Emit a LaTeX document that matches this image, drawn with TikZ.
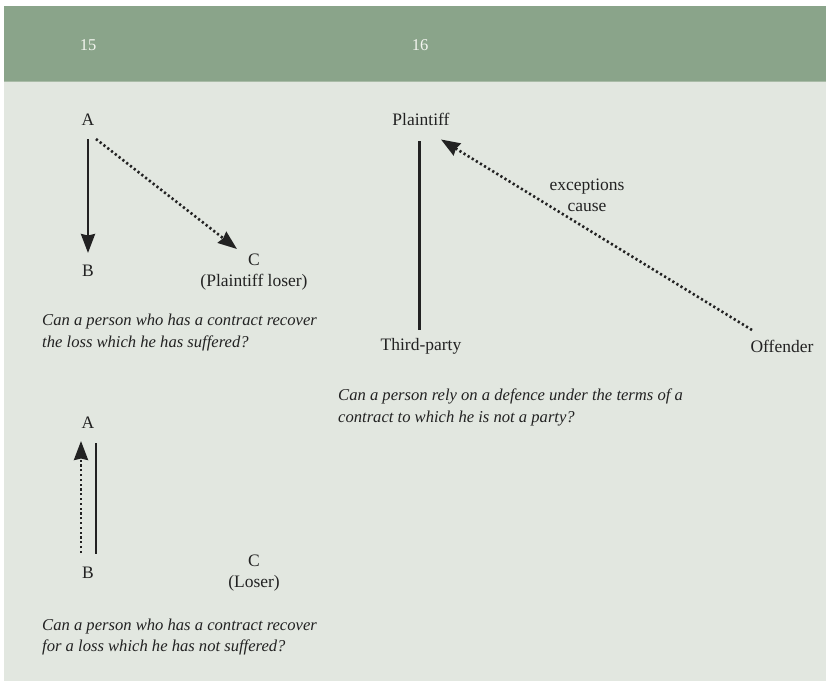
\documentclass[tikz,border=0pt]{standalone}
\usepackage{fontspec}
\setmainfont{Liberation Serif}
\usetikzlibrary{arrows.meta}
\definecolor{bandgreen}{HTML}{8AA48A}
\definecolor{bandedge}{HTML}{A9BBA7}
\definecolor{panelgrey}{HTML}{E2E7E0}
\definecolor{inkgrey}{HTML}{222222}
\definecolor{numwhite}{HTML}{F4F6F0}
\begin{document}
\begin{tikzpicture}[x=1pt,y=-1pt,
  lbl/.style={inner sep=0pt, text=inkgrey, align=center,
    font=\fontsize{17.5}{21}\selectfont},
  question/.style={inner sep=0pt, anchor=west, align=left, text=inkgrey,
    font=\fontsize{16.6}{21.5}\selectfont\itshape},
  num/.style={inner sep=0pt, text=numwhite, font=\fontsize{16.5}{18}\selectfont},
  solidline/.style={line width=2.6pt, draw=inkgrey},
  dotline/.style={line width=2.6pt, draw=inkgrey, dash pattern=on 2.2pt off 2.6pt},
  tip/.style={-{Stealth[length=19pt,width=14pt,inset=1.5pt]}}
]
% page, header band and panel
\fill[white] (0,0) rectangle (826,681);
\useasboundingbox (0,0) rectangle (826,681);
\fill[bandgreen] (4,6) rectangle (826,81);
\fill[panelgrey] (4,81) rectangle (826,681);
\draw[bandedge, line width=1pt] (4,81) -- (826,81);

% case numbers
\node[num] (n15) at (88,45) {15};
\node[num] (n16) at (420,45) {16};

% case 15, upper diagram
\node[lbl] (A1) at (88,120) {A};
\node[lbl] (B1) at (88,271) {B};
\node[lbl] (C1) at (254,272) {C\\(Plaintiff loser)};
\coordinate (A1s) at (88,139);
\coordinate (A1d) at (96,139);
\coordinate (B1n) at (88,253);
\coordinate (C1n) at (237,249);
\draw[solidline, tip] (A1s) -- (B1n);
\draw[dotline, tip] (A1d) -- (C1n);
\node[question] (Q1) at (42,332.5)
  {Can a person who has a contract recover\\the loss which he has suffered?};

% case 15, lower diagram
\node[lbl] (A2) at (88,423) {A};
\node[lbl] (B2) at (88,573) {B};
\node[lbl] (C2) at (254,573) {C\\(Loser)};
\coordinate (A2l) at (81,441);
\coordinate (B2l) at (81,553);
\coordinate (A2r) at (96,443);
\coordinate (B2r) at (96,554);
\draw[dotline, tip] (B2l) -- (A2l);
\draw[solidline] (A2r) -- (B2r);
\node[question] (Q3) at (42,637)
  {Can a person who has a contract recover\\for a loss which he has not suffered?};

% case 16
\node[lbl] (P) at (421,119) {Plaintiff};
\node[lbl] (T) at (421,346) {Third-party};
\node[lbl] (O) at (782,346) {Offender};
\coordinate (Ps) at (419.5,141);
\coordinate (Tn) at (419.5,330);
\coordinate (Pe) at (441,139.5);
\coordinate (On) at (752,330);
\draw[solidline] (Ps) -- (Tn);
\draw[dotline, tip] (On) -- (Pe);
\node[lbl] (EC) at (587,195.5) {exceptions\\cause};
\node[question] (Q2) at (338,407.5)
  {Can a person rely on a defence under the terms of a\\contract to which he is not a party?};
\end{tikzpicture}
\end{document}
